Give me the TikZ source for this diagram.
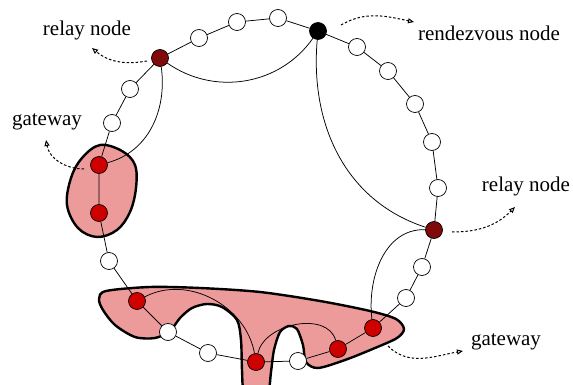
\documentclass[tikz,border=0pt]{standalone}
\usepackage{fontspec}
\setmainfont{Liberation Serif}
\usetikzlibrary{arrows.meta}
\definecolor{relayred}{RGB}{128,10,10}
\definecolor{gatered}{RGB}{206,0,0}
\definecolor{blobfill}{RGB}{237,154,154}
\tikzset{
  plain/.style={circle,draw=black,line width=0.7pt,fill=white,minimum size=17pt,inner sep=0pt},
  relay/.style={plain,fill=relayred},
  gate/.style={plain,fill=gatered},
  rendez/.style={plain,fill=black},
  ring/.style={line width=0.75pt},
  chord/.style={line width=0.75pt},
  blob/.style={fill=blobfill,draw=black,line width=2.4pt},
  lbl/.style={font=\fontsize{21}{25}\selectfont,inner sep=0pt},
  pointer/.style={line width=1pt,dash pattern=on 2.5pt off 2pt,-{Triangle[open,length=6pt,width=5pt]}}
}
\begin{document}
\begin{tikzpicture}[x=1pt,y=-1pt]
\useasboundingbox (0,0) rectangle (573,385);
\clip (0,0) rectangle (573,385);
\fill[white] (0,0) rectangle (573,385);
% gateway regions
\draw[blob] plot[smooth cycle,tension=0.6] coordinates {(100,145) (122,151) (135,165) (136,188) (130,212) (117,230) (97,237) (78,228) (67,205) (71,178) (82,158)};
\draw[blob] plot[smooth cycle,tension=0.5] coordinates {(99,299) (106,291) (150,287) (200,288) (260,292) (320,301) (370,311) (396,319) (404,329) (397,338) (375,348) (345,360) (318,368) (306,362) (303,345) (297,329) (289,326) (280,332) (274,350) (271,372) (268,392) (256,402) (244,392) (242,370) (241,340) (237,320) (222,307) (207,304) (192,308) (180,318) (170,331) (155,338) (135,337) (115,325) (103,310)};
% nodes
\node[rendez] (rv) at (318,31) {};
\node[plain] (n1) at (357,47) {};
\node[plain] (n2) at (388,71) {};
\node[plain] (n3) at (415,104) {};
\node[plain] (n4) at (432,142) {};
\node[plain] (n5) at (438,188) {};
\node[relay] (r2) at (434,230) {};
\node[plain] (n6) at (422,267) {};
\node[plain] (n7) at (406,298) {};
\node[gate] (g3) at (373,328) {};
\node[gate] (g4) at (338,349) {};
\node[plain] (n8) at (298,361) {};
\node[gate] (g5) at (256,362) {};
\node[plain] (n9) at (208,353) {};
\node[plain] (n10) at (168,332) {};
\node[gate] (g6) at (137,301) {};
\node[plain] (n11) at (109,261) {};
\node[gate] (g2) at (99,213) {};
\node[gate] (g1) at (99,165) {};
\node[plain] (n12) at (112,123) {};
\node[plain] (n13) at (130,89) {};
\node[relay] (r1) at (160,58) {};
\node[plain] (n14) at (199,38) {};
\node[plain] (n15) at (237,22) {};
\node[plain] (n16) at (278,18) {};
% ring
\draw[ring] (rv)--(n1) (n1)--(n2) (n2)--(n3) (n3)--(n4) (n4)--(n5) (n5)--(r2) (r2)--(n6) (n6)--(n7) (n7)--(g3) (g3)--(g4) (g4)--(n8) (n8)--(g5) (g5)--(n9) (n9)--(n10) (n10)--(g6) (g6)--(n11) (n11)--(g2) (g2)--(g1) (g1)--(n12) (n12)--(n13) (n13)--(r1) (r1)--(n14) (n14)--(n15) (n15)--(n16) (n16)--(rv);
% chords
\draw[chord] (r1) to[out=-35,in=-125] (rv);
\draw[chord] (r1) to[out=-82,in=15] (g1);
\draw[chord] (rv) to[out=-95,in=162] (r2);
\draw[chord] (r2) to[out=178,in=97] (g3);
\draw[chord] (g6) to[out=28,in=100] (g5);
\draw[chord] (g5) to[out=78,in=105] (g4);
% labels
\node[lbl] (lr1) at (87,30) {relay node};
\node[lbl] (lrv) at (489,33) {rendezvous node};
\node[lbl] (lg1) at (47,122) {gateway};
\node[lbl] (lr2) at (526,186) {relay node};
\node[lbl] (lg2) at (506,342) {gateway};
% pointers
\coordinate (a1s) at (147,61); \coordinate (a1e) at (92,48);
\coordinate (a2s) at (341,25); \coordinate (a2e) at (414,22);
\coordinate (a3s) at (84,169); \coordinate (a3e) at (46,140);
\coordinate (a4s) at (452,232); \coordinate (a4e) at (515,207);
\coordinate (a5s) at (388,346); \coordinate (a5e) at (463,351);
\draw[pointer] (a1s) to[out=190,in=-40] (a1e);
\draw[pointer] (a2s) to[out=30,in=168] (a2e);
\draw[pointer] (a3s) to[out=180,in=-80] (a3e);
\draw[pointer] (a4s) to[out=0,in=-135] (a4e);
\draw[pointer] (a5s) to[out=-45,in=190] (a5e);
\end{tikzpicture}
\end{document}
